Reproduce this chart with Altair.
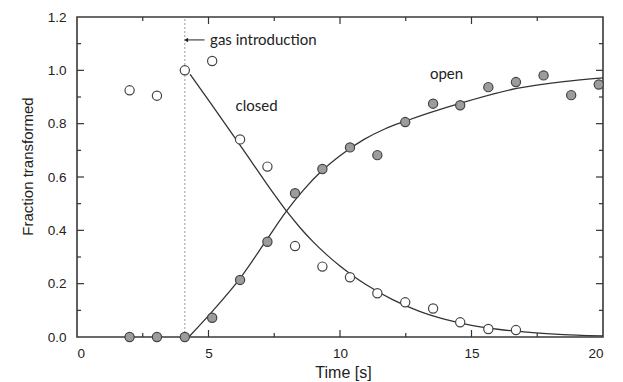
import altair as alt
import pandas as pd

# ---- data ----
time_s = [2.0, 3.04, 4.1, 5.14, 6.2, 7.24, 8.29, 9.33, 10.38, 11.42, 12.48,
          13.54, 14.57, 15.64, 16.69, 17.74, 18.79, 19.84]
closed_pts = [0.925, 0.905, 1.0, 1.035, 0.741, 0.639, 0.341, 0.264, 0.224,
              0.164, 0.130, 0.107, 0.055, 0.030, 0.026]
open_pts = [0.0, 0.0, 0.0, 0.072, 0.214, 0.357, 0.539, 0.630, 0.711, 0.682,
            0.806, 0.875, 0.869, 0.937, 0.956, 0.981, 0.907, 0.947]

closed_fit_t = [4.3, 5.0, 6.0, 7.0, 7.5, 8.0, 8.5, 9.0, 9.5, 10.0, 10.5,
                11.0, 12.0, 13.0, 14.0, 15.0, 16.0, 17.0, 18.0, 19.0, 20.0]
closed_fit_f = [0.985, 0.888, 0.748, 0.605, 0.535, 0.468, 0.408, 0.355, 0.308,
                0.266, 0.229, 0.196, 0.140, 0.097, 0.066, 0.044, 0.029, 0.019,
                0.012, 0.007, 0.004]
open_fit_t = [4.25, 5.18, 6.2, 7.21, 7.95, 8.6, 9.33, 10.0, 10.9, 11.7, 12.5,
              14.56, 16.72, 18.5, 20.0]
open_fit_f = [0.0, 0.10, 0.22, 0.364, 0.47, 0.55, 0.625, 0.68, 0.74, 0.78,
              0.81, 0.876, 0.932, 0.958, 0.972]

gas_time = [4.1]
ann_text = ["gas introduction", "closed", "open"]
ann_t = [5.06, 6.03, 13.42]
ann_f = [1.114, 0.866, 0.986]
arrow_t = [4.15, 4.85]
arrow_f = [1.114]

x_ticks = [0, 5, 10, 15, 20]
x_major_ticks = [5, 10, 15]
x_minor_ticks = [2.5, 7.5, 12.5, 17.5]
y_ticks = [0.0, 0.2, 0.4, 0.6, 0.8, 1.0, 1.2]
y_major_ticks = [0.2, 0.4, 0.6, 0.8, 1.0]
y_minor_ticks = [0.1, 0.3, 0.5, 0.7, 0.9, 1.1]

W, H = 526, 320
LABEL_FONT = "Liberation Sans"
ANN_FONT = "Lato"
INK = "#333333"

# ---- tables ----
closed_df = pd.DataFrame({"t": time_s[:len(closed_pts)], "f": closed_pts})
open_df = pd.DataFrame({"t": time_s, "f": open_pts})
closed_fit_df = pd.DataFrame({"t": closed_fit_t, "f": closed_fit_f})
open_fit_df = pd.DataFrame({"t": open_fit_t, "f": open_fit_f})
gas_df = pd.DataFrame({"t": gas_time * 2, "f": [0.0, 1.2]})
ann_df = pd.DataFrame({"label": ann_text, "t": ann_t, "f": ann_f})
arrow_df = pd.DataFrame({"t": [arrow_t[0]], "t2": [arrow_t[1]], "f": arrow_f})
arrow_head_df = pd.DataFrame({"t": [arrow_t[0]], "f": arrow_f})

xs = alt.Scale(domain=[0, 20], nice=False, zero=False)
ys = alt.Scale(domain=[0, 1.2], nice=False, zero=False)
xaxis = alt.Axis(values=x_ticks, format="d", title="Time [s]", grid=False,
                 ticks=False, tickSize=0, domain=False, labelPadding=9,
                 labelFont=LABEL_FONT, labelFontSize=13.5, labelColor="#222",
                 titleFont=LABEL_FONT, titleFontSize=16, titleFontWeight="normal",
                 titleColor="#222", titlePadding=5, titleX=266)
yaxis = alt.Axis(values=y_ticks, format=".1f", title="Fraction transformed",
                 grid=False, ticks=False, tickSize=0, domain=False,
                 labelPadding=11, labelFont=LABEL_FONT, labelFontSize=13.5,
                 labelColor="#222", titleFont=LABEL_FONT, titleFontSize=15,
                 titleFontWeight="normal", titleColor="#222", titlePadding=12,
                 titleY=149)


def X(field="t"):
    return alt.X(f"{field}:Q", scale=xs, axis=xaxis)


def Y(field="f"):
    return alt.Y(f"{field}:Q", scale=ys, axis=yaxis)


gas_line = alt.Chart(gas_df).mark_line(
    color="#9a9a9a", strokeDash=[2, 2], strokeWidth=1
).encode(x=X(), y=Y())

closed_line = alt.Chart(closed_fit_df).mark_line(
    color=INK, strokeWidth=1.3, interpolate="monotone"
).encode(x=X(), y=Y())
open_line = alt.Chart(open_fit_df).mark_line(
    color=INK, strokeWidth=1.3, interpolate="monotone"
).encode(x=X(), y=Y())

closed_marks = alt.Chart(closed_df).mark_point(
    shape="circle", filled=True, fill="white", stroke="#444", strokeWidth=1.2,
    size=85, opacity=1
).encode(x=X(), y=Y())
open_marks = alt.Chart(open_df).mark_point(
    shape="circle", filled=True, fill="#9c9c9c", stroke="#444", strokeWidth=1.2,
    size=85, opacity=1
).encode(x=X(), y=Y())

ann = alt.Chart(ann_df).mark_text(
    align="left", baseline="middle", font=ANN_FONT, fontSize=15, color="#222"
).encode(x=X(), y=Y(), text="label:N")

arrow_line = alt.Chart(arrow_df).mark_rule(color="#222", strokeWidth=1).encode(
    x=X(), x2="t2:Q", y=Y())
arrow_head = alt.Chart(arrow_head_df).mark_point(
    shape="triangle-left", filled=True, color="#222", size=20, opacity=1
).encode(x=X(), y=Y())


# inward ticks on all four sides
def xtick_layer(vals, y0, y1):
    return alt.Chart(pd.DataFrame({"t": vals})).mark_rule(
        color=INK, strokeWidth=1.2).encode(
        x=X(), y=alt.value(y0), y2=alt.value(y1))


def ytick_layer(vals, x0, x1):
    return alt.Chart(pd.DataFrame({"f": vals})).mark_rule(
        color=INK, strokeWidth=1.2).encode(
        y=Y(), x=alt.value(x0), x2=alt.value(x1))


ticks = [
    xtick_layer(x_major_ticks, H, H - 7),
    xtick_layer(x_minor_ticks, H, H - 4),
    xtick_layer(x_major_ticks, 0, 7),
    xtick_layer(x_minor_ticks, 0, 4),
    ytick_layer(y_major_ticks, 0, 7),
    ytick_layer(y_minor_ticks, 0, 4),
    ytick_layer(y_major_ticks, W, W - 7),
    ytick_layer(y_minor_ticks, W, W - 4),
]

chart = alt.layer(
    gas_line, *ticks, closed_line, open_line, arrow_line, arrow_head,
    closed_marks, open_marks, ann
).properties(
    width=W, height=H,
    autosize=alt.AutoSizeParams(type="none"),
    padding={"left": 77, "top": 17, "right": 20, "bottom": 45},
    background="white",
).configure_view(stroke="#3a3a3a", strokeWidth=1.6)

chart.save("out.html", embed_options={"renderer": "svg", "actions": False})
